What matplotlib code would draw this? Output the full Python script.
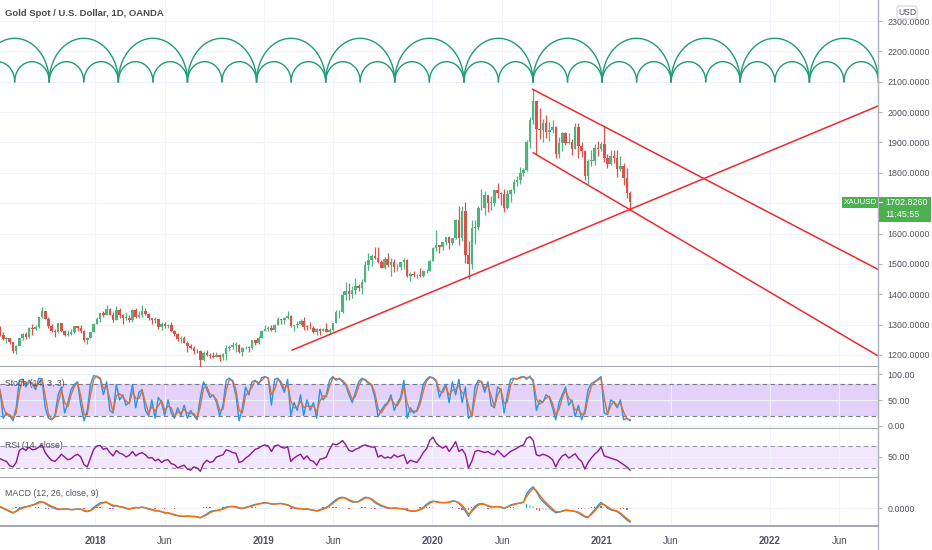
import numpy as np
import pandas as pd
import matplotlib
matplotlib.use("Agg")
import matplotlib.pyplot as plt
import matplotlib.dates as mdates
from matplotlib.patches import Rectangle, FancyBboxPatch
from matplotlib.lines import Line2D

plt.rcParams["font.family"] = ["Liberation Sans", "DejaVu Sans"]

# ---- data: weekly samples (Friday of each week) ----
first_week = "2017-06-09"
first_open = 1279

close = [
    1266, 1254, 1256, 1242, 1212, 1228, 1255, 1269, 1258, 1289, 1285, 1291, 1325, 1346, 1320,
    1297, 1280, 1275, 1304, 1280, 1266, 1269, 1274, 1294, 1288, 1280, 1248, 1257, 1275, 1303,
    1320, 1338, 1332, 1350, 1333, 1315, 1347, 1330, 1322, 1323, 1314, 1347, 1325, 1332, 1345,
    1336, 1323, 1314, 1319, 1291, 1302, 1294, 1298, 1278, 1270, 1251, 1255, 1241, 1231, 1223,
    1214, 1212, 1184, 1206, 1201, 1196, 1193, 1199, 1192, 1203, 1222, 1226, 1233, 1233, 1209,
    1222, 1223, 1222, 1248, 1238, 1256, 1280,
    1285, 1289, 1282, 1298, 1318, 1314, 1322, 1328, 1294, 1298, 1302, 1312, 1292, 1291, 1290,
    1275, 1286, 1280, 1286, 1277, 1283, 1305, 1341, 1341, 1399, 1409, 1400, 1415, 1426, 1419,
    1440, 1497, 1513, 1527, 1520, 1506, 1488, 1516, 1497, 1505, 1489, 1490, 1505, 1514, 1459,
    1468, 1462, 1464, 1460, 1476, 1478, 1511,
    1552, 1562, 1557, 1571, 1589, 1570, 1584, 1643, 1585, 1674, 1530, 1498, 1617, 1620, 1683,
    1683, 1727, 1701, 1702, 1743, 1735, 1730, 1684, 1730, 1743, 1771, 1775, 1798, 1810, 1902,
    1975, 2035, 1944, 1940, 1964, 1933, 1940, 1950, 1862, 1899, 1930, 1899, 1902, 1879, 1951,
    1889, 1871, 1788, 1839, 1839, 1882, 1877,
    1895, 1850, 1829, 1856, 1848, 1814, 1824, 1784, 1734, 1703,
]
high = [
    1296, 1274, 1260, 1256, 1244, 1233, 1256, 1271, 1274, 1291, 1301, 1298, 1326, 1357, 1337,
    1326, 1302, 1284, 1306, 1306, 1283, 1283, 1287, 1297, 1295, 1299, 1281, 1260, 1276, 1305,
    1326, 1339, 1344, 1366, 1354, 1340, 1362, 1353, 1334, 1340, 1330, 1350, 1356, 1345, 1365,
    1354, 1339, 1320, 1326, 1319, 1308, 1308, 1303, 1310, 1283, 1272, 1264, 1264, 1245, 1235,
    1228, 1220, 1215, 1214, 1215, 1207, 1210, 1210, 1204, 1208, 1233, 1233, 1243, 1243, 1237,
    1226, 1230, 1230, 1250, 1250, 1264, 1283,
    1298, 1295, 1298, 1303, 1326, 1320, 1324, 1346, 1331, 1300, 1311, 1320, 1324, 1298, 1310,
    1296, 1289, 1290, 1289, 1304, 1288, 1306, 1348, 1348, 1411, 1439, 1437, 1426, 1453, 1434,
    1449, 1510, 1535, 1531, 1555, 1557, 1513, 1523, 1535, 1519, 1517, 1498, 1507, 1518, 1516,
    1474, 1478, 1466, 1485, 1481, 1483, 1514,
    1557, 1611, 1563, 1573, 1590, 1591, 1585, 1649, 1689, 1692, 1703, 1576, 1645, 1644, 1690,
    1747, 1739, 1722, 1722, 1745, 1765, 1738, 1745, 1744, 1745, 1779, 1789, 1818, 1815, 1907,
    1984, 2075, 2035, 2015, 1976, 1992, 1966, 1973, 1955, 1917, 1933, 1933, 1932, 1911, 1965,
    1965, 1900, 1875, 1847, 1875, 1896, 1906,
    1900, 1959, 1863, 1875, 1875, 1875, 1855, 1832, 1815, 1740,
]
low = [
    1264, 1250, 1241, 1236, 1205, 1204, 1232, 1250, 1254, 1255, 1265, 1281, 1289, 1322, 1317,
    1288, 1276, 1260, 1273, 1277, 1262, 1263, 1265, 1271, 1280, 1272, 1244, 1236, 1256, 1274,
    1301, 1307, 1326, 1330, 1331, 1307, 1314, 1322, 1303, 1316, 1308, 1307, 1322, 1322, 1325,
    1332, 1316, 1302, 1305, 1285, 1282, 1290, 1290, 1275, 1261, 1245, 1238, 1238, 1211, 1220,
    1204, 1205, 1160, 1180, 1195, 1190, 1191, 1192, 1180, 1182, 1185, 1214, 1221, 1211, 1207,
    1196, 1218, 1211, 1221, 1234, 1236, 1255,
    1278, 1279, 1280, 1276, 1298, 1303, 1302, 1320, 1291, 1280, 1290, 1298, 1281, 1281, 1286,
    1271, 1266, 1266, 1279, 1275, 1268, 1280, 1305, 1322, 1339, 1381, 1381, 1386, 1401, 1412,
    1400, 1440, 1480, 1492, 1515, 1503, 1485, 1484, 1490, 1459, 1474, 1478, 1480, 1484, 1456,
    1445, 1456, 1452, 1456, 1456, 1470, 1477,
    1508, 1544, 1536, 1546, 1562, 1548, 1561, 1581, 1562, 1575, 1504, 1451, 1483, 1567, 1613,
    1676, 1660, 1671, 1679, 1690, 1717, 1693, 1670, 1680, 1705, 1733, 1757, 1763, 1791, 1807,
    1882, 1962, 1863, 1911, 1902, 1916, 1906, 1932, 1848, 1850, 1873, 1890, 1895, 1860, 1880,
    1848, 1851, 1775, 1764, 1822, 1826, 1855,
    1871, 1836, 1817, 1826, 1831, 1785, 1806, 1760, 1717, 1677,
]

stoch_k = [
    70, 15, 25, 20, 10, 35, 88, 90, 75, 88, 80, 70, 92, 90, 35, 15, 12, 20, 60, 75,
    25, 45, 70, 80, 85, 40, 10, 30, 80, 97, 95, 90, 60, 85, 30, 25, 80, 50, 60, 40,
    45, 80, 35, 65, 70, 30, 20, 50, 15, 55, 45, 20, 50, 25, 15, 35, 20, 40, 15, 30,
    20, 12, 55, 85, 70, 55, 60, 45, 20, 40, 88, 92, 85, 60, 10, 35, 75, 60, 85, 88,
    80, 93, 95, 92, 40, 90, 92, 80, 65, 90, 20, 45, 30, 60, 20, 50, 30, 45, 15, 70,
    50, 60, 88, 95, 88, 92, 85, 78, 60, 45, 65, 85, 92, 88, 82, 78, 55, 18, 30, 40,
    45, 60, 30, 45, 55, 88, 15, 35, 25, 30, 50, 80, 90, 95, 92, 85, 55, 70, 80, 45,
    85, 60, 90, 45, 75, 15, 20, 75, 88, 85, 65, 85, 40, 35, 75, 70, 25, 60, 90, 92,
    90, 94, 95, 90, 96, 85, 30, 50, 45, 60, 55, 35, 12, 45, 60, 75, 40, 50, 18, 40,
    12, 30, 70, 82, 85, 90, 95, 25, 22, 50, 45, 35, 50, 12, 15, 10,
]
stoch_d = [
    68, 37, 21, 22, 14, 25, 67, 89, 81, 83, 83, 74, 83, 91, 57, 23, 13, 17, 44, 69,
    45, 37, 60, 76, 83, 58, 22, 22, 60, 90, 96, 92, 72, 75, 52, 27, 58, 62, 56, 48,
    43, 66, 53, 53, 68, 46, 24, 38, 29, 39, 49, 30, 38, 35, 19, 27, 26, 32, 25, 24,
    24, 15, 38, 73, 76, 61, 58, 51, 30, 32, 69, 90, 88, 70, 30, 25, 59, 66, 75, 87,
    83, 88, 94, 93, 61, 70, 91, 85, 71, 80, 48, 35, 36, 48, 36, 38, 38, 39, 27, 48,
    58, 56, 77, 92, 91, 90, 88, 81, 67, 51, 57, 77, 89, 90, 84, 80, 64, 33, 25, 36,
    43, 54, 42, 39, 51, 75, 44, 27, 29, 28, 42, 68, 86, 93, 93, 88, 67, 64, 76, 59,
    69, 70, 78, 63, 63, 39, 18, 53, 83, 86, 73, 77, 58, 37, 59, 72, 43, 46, 78, 91,
    91, 92, 95, 92, 94, 89, 52, 42, 47, 54, 57, 43, 21, 32, 54, 69, 54, 46, 31, 31,
    23, 23, 54, 77, 84, 88, 93, 53, 23, 39, 47, 39, 44, 27, 14, 12,
]
rsi = [
    47, 44, 42, 34, 32, 40, 62, 66, 62, 68, 63, 64, 68, 72, 58, 50, 44, 42, 48, 55,
    50, 45, 47, 52, 55, 50, 36, 32, 48, 64, 70, 71, 64, 66, 58, 52, 62, 57, 55, 50,
    53, 60, 52, 56, 58, 54, 48, 49, 43, 46, 40, 44, 45, 38, 36, 30, 33, 35, 28, 26,
    32, 30, 24, 38, 44, 40, 42, 50, 52, 54, 63, 61, 58, 57, 40, 42, 48, 52, 58, 64,
    66, 70, 72, 70, 60, 70, 72, 68, 66, 69, 42, 48, 52, 55, 46, 52, 44, 42, 35, 46,
    47, 50, 64, 74, 72, 75, 80, 72, 62, 60, 64, 66, 70, 72, 70, 68, 68, 50, 53, 48,
    50, 48, 54, 50, 52, 54, 38, 44, 42, 40, 48, 58, 65, 80, 86, 75, 70, 66, 70, 60,
    68, 78, 60, 64, 55, 30, 42, 60, 62, 60, 58, 60, 56, 54, 62, 56, 50, 55, 60, 63,
    66, 70, 72, 84, 87, 80, 54, 52, 55, 53, 50, 45, 32, 44, 52, 55, 48, 52, 56, 47,
    42, 28, 40, 48, 55, 60, 68, 52, 50, 48, 46, 44, 40, 36, 32, 26,
]
macd = [
    4, -2, -7, -12, -17, -10, -2, 2, 4, 7, 10, 14, 20, 21, 15, 8, 3, -2, -5, -4,
    -3, -4, -6, -5, -3, -4, -10, -12, -8, 2, 10, 17, 19, 20, 12, 6, 7, 4, 2, -2,
    -4, 0, 2, 1, 3, 0, -4, -6, -10, -9, -13, -17, -16, -20, -24, -26, -28, -28, -27, -28,
    -28, -30, -33, -26, -20, -12, -9, -8, -6, -2, 3, 5, 5, 3, -1, -2, 2, 5, 9, 12,
    14, 16, 18, 16, 13, 13, 15, 15, 12, 10, 4, 0, -3, -2, -4, -3, -6, -8, -10, -6,
    -2, 2, 10, 19, 28, 34, 36, 32, 25, 20, 19, 22, 30, 36, 34, 28, 18, 12, 6, 3,
    -1, -2, 0, -1, -2, -3, -8, -10, -11, -9, -4, 2, 12, 20, 23, 21, 18, 18, 18, 20,
    24, 22, 16, 4, -10, -28, -8, 6, 13, 15, 12, 6, 3, 4, 5, 2, -2, 4, 10, 13,
    15, 17, 20, 47, 62, 71, 55, 35, 22, 12, 2, -8, -16, -14, -10, -7, -8, -10, -12, -16,
    -23, -30, -32, -18, -6, 8, 19, 10, 0, -6, -9, -12, -20, -30, -40, -47,
]
signal = [
    5, 0, -5, -10, -15, -12, -5, 0, 3, 6, 9, 12, 17, 20, 17, 11, 6, 1, -3, -4,
    -3, -4, -5, -5, -4, -4, -8, -11, -9, -2, 6, 13, 17, 19, 14, 9, 8, 5, 3, 0,
    -3, -1, 1, 1, 2, 1, -2, -5, -8, -9, -12, -15, -16, -19, -22, -25, -27, -28, -27, -28,
    -28, -29, -32, -28, -23, -16, -11, -9, -7, -4, 1, 4, 5, 4, 1, -1, 1, 4, 7, 10,
    13, 15, 17, 16, 14, 13, 14, 15, 13, 11, 6, 2, -1, -2, -3, -3, -5, -7, -9, -7,
    -4, 0, 7, 15, 24, 31, 34, 33, 28, 23, 20, 21, 27, 33, 34, 30, 22, 15, 9, 5,
    1, -1, 0, -1, -2, -3, -6, -9, -10, -9, -6, -1, 8, 16, 21, 21, 19, 18, 18, 19,
    22, 22, 18, 9, -4, -20, -12, 0, 9, 13, 12, 8, 5, 4, 5, 3, 0, 3, 8, 11,
    14, 16, 19, 38, 54, 65, 58, 43, 29, 18, 7, -3, -12, -13, -11, -8, -8, -9, -11, -14,
    -20, -27, -30, -22, -11, 2, 13, 11, 4, -3, -7, -10, -17, -26, -35, -43,
]
hist = [
    -1, -2, -2, -2, -2, 2, 3, 2, 1, 1, 1, 2, 3, 1, -2, -3, -3, -3, -2, 0,
    0, 0, -1, 0, 1, 0, -2, -1, 1, 4, 4, 4, 2, 1, -2, -3, -1, -1, -1, -2,
    -1, 1, 1, 0, 1, -1, -2, -1, -2, 0, -1, -2, 0, -1, -2, -1, -1, 0, 0, 0,
    0, -1, -1, 2, 3, 4, 2, 1, 1, 2, 2, 1, 0, -1, -2, -1, 1, 1, 2, 2,
    1, 1, 1, 0, -1, 0, 1, 0, -1, -1, -2, -2, -2, 0, -1, 0, -1, -1, -1, 1,
    2, 2, 3, 4, 4, 3, 2, -1, -3, -3, -1, 1, 3, 3, 0, -2, -4, -3, -3, -2,
    -2, -1, 0, 0, 0, 0, -2, -1, -1, 0, 2, 3, 4, 4, 2, 0, -1, 0, 0, 1,
    2, 0, -2, -5, -6, -8, 4, 6, 4, 2, 0, -2, -2, 0, 0, -1, -2, 1, 2, 2,
    1, 1, 1, 12, 10, 7, -6, -10, -8, -6, -5, -5, -4, -1, 1, 1, 0, -1, -1, -2,
    -3, -3, -2, 4, 5, 6, 6, -1, -4, -3, -2, -2, -3, -4, -5, -4,
]

# drawings on the price pane
support_dates = ["2019-03-04", "2022-08-24"]
support_prices = [1216, 2020]
channel_top_dates = ["2020-08-06", "2022-08-24"]
channel_top_prices = [2075, 1482]
channel_low_dates = ["2020-08-07", "2022-08-24"]
channel_low_prices = [1866, 1197]

cycle_start = "2017-04-27"
cycle_days = 149.7
cycle_base = 2100
big_top = 2243
small_top = 2166

x_range = ["2017-06-09", "2022-08-24"]
price_ticks = [1200, 1300, 1400, 1500, 1600, 1700, 1800, 1900, 2000, 2100, 2200, 2300]
date_ticks = ["2018-01-01", "2018-06-01", "2019-01-01", "2019-06-01", "2020-01-01",
              "2020-06-01", "2021-01-01", "2021-06-01", "2022-01-01", "2022-06-01"]
date_labels = ["2018", "Jun", "2019", "Jun", "2020", "Jun", "2021", "Jun", "2022", "Jun"]

last_price = "1702.8260"
countdown = "11:45:55"

# ---- layout (pixel based, 932x550) ----
W, H = 932, 550
AXIS_X = 878
TXT = "#50535e"
GRID = "#f0f3fa"
SEP = "#a3a6af"


def fx(px):
    return px / W


def fy(py):
    return 1 - py / H


fig = plt.figure(figsize=(W / 100, H / 100), dpi=100)
fig.patch.set_facecolor("white")


def panel(top, bottom):
    return fig.add_axes([0, fy(bottom), fx(AXIS_X), (bottom - top) / H])


ax = panel(0, 367)
ax_st = panel(367, 429)
ax_rsi = panel(429, 478)
ax_macd = panel(478, 526)

x = mdates.date2num(pd.date_range(first_week, periods=len(close), freq="7D"))
xlim = mdates.date2num(pd.to_datetime(x_range))
grid_x = mdates.date2num(pd.to_datetime(date_ticks))

for a in (ax, ax_st, ax_rsi, ax_macd):
    a.set_xlim(xlim)
    a.set_xticks(grid_x)
    a.grid(True, color=GRID, lw=0.8)
    a.set_axisbelow(True)
    a.spines["top"].set_visible(False)
    a.spines["left"].set_visible(False)
    a.spines["right"].set_color("#b2b5be")
    a.spines["bottom"].set_color(SEP)
    a.spines["bottom"].set_linewidth(1.4)
    a.yaxis.tick_right()
    a.tick_params(axis="y", length=3, pad=4, color="#b2b5be", labelsize=6.4, labelcolor=TXT)
    a.tick_params(axis="x", length=0, labelbottom=False)

# ---- price pane ----
ax.set_ylim(1160.3, 2369.2)
ax.set_yticks(price_ticks)
# the 1700 label sits under the last-price tag, so it is left blank
ax.set_yticklabels(["" if p == 1700 else f"{p:.4f}" for p in price_ticks])

c = np.array(close, float)
o = np.r_[first_open, c[:-1]]
up_col, dn_col = "#4fb37f", "#d9534a"
cols = np.where(c >= o, up_col, dn_col)
ax.vlines(x, low, high, colors=cols, lw=0.9, zorder=3)
body = np.where(np.abs(c - o) < 2, 2, c - o)
ax.bar(x, body, bottom=o, width=5.5, color=cols, lw=0, zorder=3)

red = "#f0282d"
for d, p in ((support_dates, support_prices),
             (channel_top_dates, channel_top_prices),
             (channel_low_dates, channel_low_prices)):
    ax.plot(mdates.date2num(pd.to_datetime(d)), p, color=red, lw=1.1, zorder=4)

arc_col = "#1e9a7a"
t = np.linspace(0, np.pi, 80)
start = mdates.date2num(pd.Timestamp(cycle_start))
for k in range(13):
    cx = start + (k + 0.5) * cycle_days
    ax.plot(cx + cycle_days / 2 * np.cos(t), cycle_base + (big_top - cycle_base) * np.sin(t),
            color=arc_col, lw=1.0, zorder=4)
for k in range(26):
    cx = start + (k + 0.5) * cycle_days / 2
    ax.plot(cx + cycle_days / 4 * np.cos(t), cycle_base + (small_top - cycle_base) * np.sin(t),
            color=arc_col, lw=1.0, zorder=4)

# ---- stochastic ----
ax_st.set_ylim(-5.8, 113.5)
ax_st.set_yticks([0, 50, 100])
ax_st.set_yticklabels(["0.00", "50.00", "100.00"])
ax_st.axhspan(20, 80, color="#e3d1fa", lw=0, zorder=0.5)
for lvl in (20, 80):
    ax_st.axhline(lvl, color="#787b86", lw=0.8, dashes=(4, 3), zorder=1)
ax_st.plot(x, stoch_k, color="#2196f3", lw=1.0, zorder=3)
ax_st.plot(x, stoch_d, color="#d9733a", lw=1.0, zorder=3)

# ---- RSI ----
ax_rsi.set_ylim(11.8, 100.9)
ax_rsi.set_yticks([50])
ax_rsi.set_yticklabels(["50.00"])
ax_rsi.axhspan(30, 70, color="#f2e8fd", lw=0, zorder=0.5)
for lvl in (30, 70):
    ax_rsi.axhline(lvl, color="#9598a1", lw=0.8, dashes=(4, 3), zorder=1)
ax_rsi.plot(x, rsi, color="#8e1599", lw=1.0, zorder=3)

# ---- MACD ----
ax_macd.set_ylim(-60, 100)
ax_macd.set_yticks([0])
ax_macd.set_yticklabels(["0.0000"])
h = np.array(hist, float)
hp = np.r_[0, h[:-1]]
hcol = np.where(h >= 0, np.where(h >= hp, "#26a69a", "#b2dfdb"),
                np.where(h < hp, "#ef5350", "#ffcdd2"))
ax_macd.bar(x, h, width=3, color=hcol, lw=0, zorder=2)
ax_macd.plot(x, macd, color="#2196f3", lw=1.0, zorder=3)
ax_macd.plot(x, signal, color="#ff6d00", lw=1.0, zorder=3)

ax_macd.set_xticklabels(date_labels)
ax_macd.tick_params(axis="x", labelbottom=True, pad=7, labelsize=7, labelcolor=TXT)
for lab in ax_macd.get_xticklabels():
    if lab.get_text().isdigit():
        lab.set_fontweight("bold")

# ---- texts and labels ----
fig.text(fx(5), fy(14), "Gold Spot / U.S. Dollar, 1D, OANDA", fontsize=6.8, fontweight="bold",
         color="#4a4a4a", va="center")
fig.text(fx(5), fy(383), "Stoch (14, 3, 3)", fontsize=6.3, color=TXT, va="center")
fig.text(fx(5), fy(445), "RSI (14, close)", fontsize=6.3, color=TXT, va="center")
fig.text(fx(5), fy(494), "MACD (12, 26, close, 9)", fontsize=6.3, color=TXT, va="center")

fig.add_artist(Line2D([fx(AXIS_X)] * 2, [0, 1], transform=fig.transFigure, color="#b2b5be", lw=1))

green = "#4caf50"
fig.add_artist(Rectangle((fx(878.5), fy(221.5)), 52.5 / W, 25 / H, transform=fig.transFigure,
                         color=green, lw=0, zorder=10))
fig.add_artist(Line2D([fx(879), fx(882)], [fy(202.3)] * 2, transform=fig.transFigure,
                      color="white", lw=0.8, zorder=11))
fig.text(fx(885), fy(202.3), last_price, color="white", ha="left", va="center", fontsize=6.4, zorder=11)
fig.text(fx(885), fy(214.3), countdown, color="white", ha="left", va="center", fontsize=6.4, zorder=11)
fig.add_artist(Rectangle((fx(841.5), fy(208)), 36.5 / W, 11.5 / H, transform=fig.transFigure,
                         color=green, lw=0, zorder=10))
fig.text(fx(860), fy(202.3), "XAUUSD", color="white", ha="center", va="center", fontsize=5.8, zorder=11)

fig.add_artist(FancyBboxPatch((fx(897), fy(19)), 20 / W, 13 / H, transform=fig.transFigure,
                              boxstyle="round,pad=0,rounding_size=0.004", fc="white",
                              ec="#d1d4dc", lw=0.8, zorder=10))
fig.text(fx(907), fy(12.5), "USD", color=TXT, ha="center", va="center", fontsize=6.2, zorder=11)

fig.savefig("out.png", dpi=100)
